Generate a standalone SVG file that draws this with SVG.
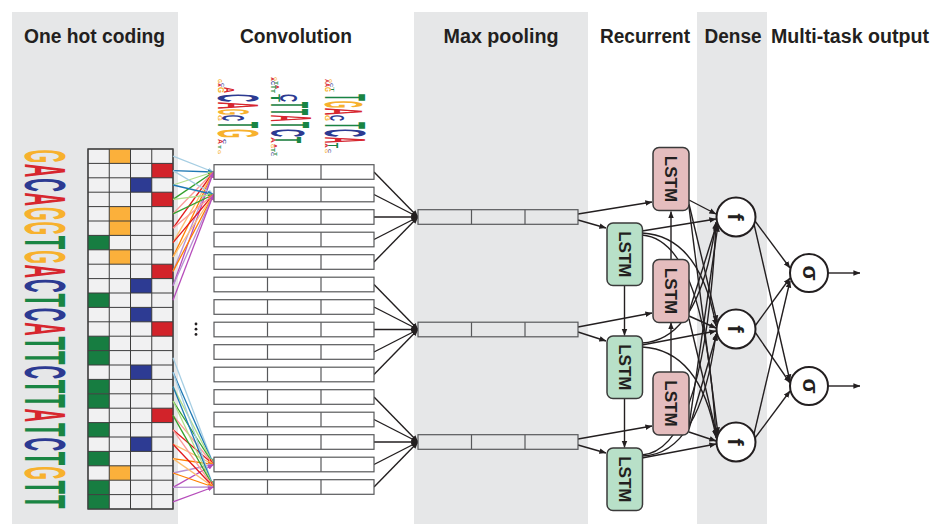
<svg xmlns="http://www.w3.org/2000/svg" width="934" height="524" viewBox="0 0 934 524">
<style>
.panel{fill:#e6e7e8}
.h{font-family:"Liberation Sans",Arial,sans-serif;font-weight:bold;font-size:20px;fill:#231f20;text-anchor:middle}
.seq{font-family:"Liberation Sans",Arial,sans-serif;font-weight:bold;font-size:58px}
.lg{font-family:"Liberation Sans",Arial,sans-serif;font-weight:bold}
.oG{fill:#f7b12d}.oA{fill:#d7262e}.oC{fill:#2c3a92}.oT{fill:#198543}
.cell{fill:#f1f1f2;stroke:#3d3d3d;stroke-width:1}
.cT{fill:#177d41}.cG{fill:#fbb03b}.cC{fill:#2d3b93}.cA{fill:#d2232a}
.grid{fill:none;stroke:#3d3d3d;stroke-width:1}
.conv{fill:#ffffff;stroke:#58595b;stroke-width:1.2}
.mp{fill:#e6e7e8;stroke:#58595b;stroke-width:1.2}
.div{fill:none;stroke:#58595b;stroke-width:1.2}
.lk{fill:none;stroke:#231f20;stroke-width:1.4;marker-end:url(#ab)}
.gl{fill:#b8e0c8;stroke:#3a3a3a;stroke-width:1.5}
.pl{fill:#e5bdbe;stroke:#3a3a3a;stroke-width:1.5}
.lt{font-family:"Liberation Sans",Arial,sans-serif;font-weight:bold;font-size:17px;fill:#231f20;text-anchor:middle}
.nd{fill:#ffffff;stroke:#231f20;stroke-width:2}
.sym{font-family:"Liberation Sans",Arial,sans-serif;font-weight:bold;font-size:22px;fill:#231f20;text-anchor:middle}
.col{fill:none;stroke-width:1.3}
</style>
<defs>
<marker id="ab" viewBox="0 0 10 10" refX="9.5" refY="5" markerWidth="7" markerHeight="7" markerUnits="userSpaceOnUse" orient="auto"><path d="M0,1L10,5L0,9z" fill="#231f20"/></marker>
<marker id="m0" viewBox="0 0 10 10" refX="9.5" refY="5" markerWidth="6" markerHeight="6" markerUnits="userSpaceOnUse" orient="auto"><path d="M0,1L10,5L0,9z" fill="#a6cee3"/></marker>
<marker id="m1" viewBox="0 0 10 10" refX="9.5" refY="5" markerWidth="6" markerHeight="6" markerUnits="userSpaceOnUse" orient="auto"><path d="M0,1L10,5L0,9z" fill="#1f78b4"/></marker>
<marker id="m2" viewBox="0 0 10 10" refX="9.5" refY="5" markerWidth="6" markerHeight="6" markerUnits="userSpaceOnUse" orient="auto"><path d="M0,1L10,5L0,9z" fill="#b2df8a"/></marker>
<marker id="m3" viewBox="0 0 10 10" refX="9.5" refY="5" markerWidth="6" markerHeight="6" markerUnits="userSpaceOnUse" orient="auto"><path d="M0,1L10,5L0,9z" fill="#33a02c"/></marker>
<marker id="m4" viewBox="0 0 10 10" refX="9.5" refY="5" markerWidth="6" markerHeight="6" markerUnits="userSpaceOnUse" orient="auto"><path d="M0,1L10,5L0,9z" fill="#fb9a99"/></marker>
<marker id="m5" viewBox="0 0 10 10" refX="9.5" refY="5" markerWidth="6" markerHeight="6" markerUnits="userSpaceOnUse" orient="auto"><path d="M0,1L10,5L0,9z" fill="#e31a1c"/></marker>
<marker id="m6" viewBox="0 0 10 10" refX="9.5" refY="5" markerWidth="6" markerHeight="6" markerUnits="userSpaceOnUse" orient="auto"><path d="M0,1L10,5L0,9z" fill="#fdbf6f"/></marker>
<marker id="m7" viewBox="0 0 10 10" refX="9.5" refY="5" markerWidth="6" markerHeight="6" markerUnits="userSpaceOnUse" orient="auto"><path d="M0,1L10,5L0,9z" fill="#ff7f00"/></marker>
<marker id="m8" viewBox="0 0 10 10" refX="9.5" refY="5" markerWidth="6" markerHeight="6" markerUnits="userSpaceOnUse" orient="auto"><path d="M0,1L10,5L0,9z" fill="#b890d2"/></marker>
<marker id="m9" viewBox="0 0 10 10" refX="9.5" refY="5" markerWidth="6" markerHeight="6" markerUnits="userSpaceOnUse" orient="auto"><path d="M0,1L10,5L0,9z" fill="#b64dbb"/></marker>
</defs>

<rect width="934" height="524" fill="#ffffff"/>
<g id="panels">
<rect class="panel" x="12" y="12" width="166" height="512"/>
<rect class="panel" x="414" y="12" width="174" height="512"/>
<rect class="panel" x="697" y="12" width="70" height="512"/>
</g>

<g id="headers">
<text class="h" x="94.5" y="43" textLength="141" lengthAdjust="spacingAndGlyphs">One hot coding</text>
<text class="h" x="296" y="43" textLength="112" lengthAdjust="spacingAndGlyphs">Convolution</text>
<text class="h" x="501" y="43" textLength="115" lengthAdjust="spacingAndGlyphs">Max pooling</text>
<text class="h" x="645" y="43" textLength="90" lengthAdjust="spacingAndGlyphs">Recurrent</text>
<text class="h" x="733" y="43" textLength="57" lengthAdjust="spacingAndGlyphs">Dense</text>
<text class="h" x="850" y="43" textLength="158" lengthAdjust="spacingAndGlyphs">Multi-task output</text>
</g>

<g id="sequence" transform="rotate(90)">
<text class="seq oG" x="149.4" y="-25" textLength="13.6" lengthAdjust="spacingAndGlyphs">G</text>
<text class="seq oA" x="163.8" y="-25" textLength="13.6" lengthAdjust="spacingAndGlyphs">A</text>
<text class="seq oC" x="178.2" y="-25" textLength="13.6" lengthAdjust="spacingAndGlyphs">C</text>
<text class="seq oA" x="192.6" y="-25" textLength="13.6" lengthAdjust="spacingAndGlyphs">A</text>
<text class="seq oG" x="207" y="-25" textLength="13.6" lengthAdjust="spacingAndGlyphs">G</text>
<text class="seq oG" x="221.4" y="-25" textLength="13.6" lengthAdjust="spacingAndGlyphs">G</text>
<text class="seq oT" x="235.8" y="-25" textLength="13.6" lengthAdjust="spacingAndGlyphs">T</text>
<text class="seq oG" x="250.2" y="-25" textLength="13.6" lengthAdjust="spacingAndGlyphs">G</text>
<text class="seq oA" x="264.6" y="-25" textLength="13.6" lengthAdjust="spacingAndGlyphs">A</text>
<text class="seq oC" x="279" y="-25" textLength="13.6" lengthAdjust="spacingAndGlyphs">C</text>
<text class="seq oT" x="293.4" y="-25" textLength="13.6" lengthAdjust="spacingAndGlyphs">T</text>
<text class="seq oC" x="307.8" y="-25" textLength="13.6" lengthAdjust="spacingAndGlyphs">C</text>
<text class="seq oA" x="322.2" y="-25" textLength="13.6" lengthAdjust="spacingAndGlyphs">A</text>
<text class="seq oT" x="336.6" y="-25" textLength="13.6" lengthAdjust="spacingAndGlyphs">T</text>
<text class="seq oT" x="351" y="-25" textLength="13.6" lengthAdjust="spacingAndGlyphs">T</text>
<text class="seq oC" x="365.4" y="-25" textLength="13.6" lengthAdjust="spacingAndGlyphs">C</text>
<text class="seq oT" x="379.8" y="-25" textLength="13.6" lengthAdjust="spacingAndGlyphs">T</text>
<text class="seq oT" x="394.2" y="-25" textLength="13.6" lengthAdjust="spacingAndGlyphs">T</text>
<text class="seq oA" x="408.6" y="-25" textLength="13.6" lengthAdjust="spacingAndGlyphs">A</text>
<text class="seq oT" x="423" y="-25" textLength="13.6" lengthAdjust="spacingAndGlyphs">T</text>
<text class="seq oC" x="437.4" y="-25" textLength="13.6" lengthAdjust="spacingAndGlyphs">C</text>
<text class="seq oT" x="451.8" y="-25" textLength="13.6" lengthAdjust="spacingAndGlyphs">T</text>
<text class="seq oG" x="466.2" y="-25" textLength="13.6" lengthAdjust="spacingAndGlyphs">G</text>
<text class="seq oT" x="480.6" y="-25" textLength="13.6" lengthAdjust="spacingAndGlyphs">T</text>
<text class="seq oT" x="495" y="-25" textLength="13.6" lengthAdjust="spacingAndGlyphs">T</text>
</g>

<g id="onehot">
<rect class="cell" x="88" y="149" width="85" height="360"/>
<rect class="cG" x="109.25" y="149" width="21.25" height="14.4"/>
<rect class="cA" x="151.75" y="163.4" width="21.25" height="14.4"/>
<rect class="cC" x="130.5" y="177.8" width="21.25" height="14.4"/>
<rect class="cA" x="151.75" y="192.2" width="21.25" height="14.4"/>
<rect class="cG" x="109.25" y="206.6" width="21.25" height="14.4"/>
<rect class="cG" x="109.25" y="221" width="21.25" height="14.4"/>
<rect class="cT" x="88" y="235.4" width="21.25" height="14.4"/>
<rect class="cG" x="109.25" y="249.8" width="21.25" height="14.4"/>
<rect class="cA" x="151.75" y="264.2" width="21.25" height="14.4"/>
<rect class="cC" x="130.5" y="278.6" width="21.25" height="14.4"/>
<rect class="cT" x="88" y="293" width="21.25" height="14.4"/>
<rect class="cC" x="130.5" y="307.4" width="21.25" height="14.4"/>
<rect class="cA" x="151.75" y="321.8" width="21.25" height="14.4"/>
<rect class="cT" x="88" y="336.2" width="21.25" height="14.4"/>
<rect class="cT" x="88" y="350.6" width="21.25" height="14.4"/>
<rect class="cC" x="130.5" y="365" width="21.25" height="14.4"/>
<rect class="cT" x="88" y="379.4" width="21.25" height="14.4"/>
<rect class="cT" x="88" y="393.8" width="21.25" height="14.4"/>
<rect class="cA" x="151.75" y="408.2" width="21.25" height="14.4"/>
<rect class="cT" x="88" y="422.6" width="21.25" height="14.4"/>
<rect class="cC" x="130.5" y="437" width="21.25" height="14.4"/>
<rect class="cT" x="88" y="451.4" width="21.25" height="14.4"/>
<rect class="cG" x="109.25" y="465.8" width="21.25" height="14.4"/>
<rect class="cT" x="88" y="480.2" width="21.25" height="14.4"/>
<rect class="cT" x="88" y="494.6" width="21.25" height="14.4"/>
<path class="grid" d="M109.25 149V509M130.5 149V509M151.75 149V509M88 163.4H173M88 177.8H173M88 192.2H173M88 206.6H173M88 221H173M88 235.4H173M88 249.8H173M88 264.2H173M88 278.6H173M88 293H173M88 307.4H173M88 321.8H173M88 336.2H173M88 350.6H173M88 365H173M88 379.4H173M88 393.8H173M88 408.2H173M88 422.6H173M88 437H173M88 451.4H173M88 465.8H173M88 480.2H173M88 494.6H173"/>
<rect x="88" y="149" width="85" height="360" fill="none" stroke="#3d3d3d" stroke-width="1.2"/>
</g>

<g id="logos" transform="rotate(90)">
<g id="logo1">
<text class="lg oG" x="79" y="-218" font-size="5.8" textLength="4" lengthAdjust="spacingAndGlyphs">G</text>
<text class="lg oA" x="83" y="-218" font-size="4.4" textLength="4" lengthAdjust="spacingAndGlyphs">A</text>
<text class="lg oC" x="83" y="-221" font-size="4.4" textLength="4" lengthAdjust="spacingAndGlyphs">C</text>
<text class="lg oG" x="87" y="-218" font-size="8.7" textLength="6" lengthAdjust="spacingAndGlyphs">G</text>
<text class="lg oA" x="87" y="-224" font-size="14.5" textLength="6" lengthAdjust="spacingAndGlyphs">A</text>
<text class="lg oC" x="94" y="-218" font-size="56.7" textLength="8" lengthAdjust="spacingAndGlyphs">C</text>
<text class="lg oA" x="102" y="-218" font-size="56.7" textLength="7" lengthAdjust="spacingAndGlyphs">A</text>
<text class="lg oG" x="109" y="-218" font-size="43.6" textLength="6" lengthAdjust="spacingAndGlyphs">G</text>
<text class="lg oG" x="115" y="-218" font-size="5.8" textLength="6" lengthAdjust="spacingAndGlyphs">G</text>
<text class="lg oC" x="115" y="-222" font-size="32" textLength="6" lengthAdjust="spacingAndGlyphs">C</text>
<text class="lg oT" x="122" y="-218" font-size="58" textLength="6" lengthAdjust="spacingAndGlyphs">T</text>
<text class="lg oG" x="129" y="-218" font-size="56.7" textLength="9" lengthAdjust="spacingAndGlyphs">G</text>
<text class="lg oA" x="139" y="-218" font-size="7.3" textLength="5" lengthAdjust="spacingAndGlyphs">A</text>
<text class="lg oC" x="139" y="-223" font-size="4.4" textLength="5" lengthAdjust="spacingAndGlyphs">C</text>
<text class="lg oT" x="145" y="-218" font-size="4.4" textLength="4" lengthAdjust="spacingAndGlyphs">T</text>
<text class="lg oG" x="150" y="-218" font-size="4.4" textLength="4" lengthAdjust="spacingAndGlyphs">G</text>
</g>
<g id="logo2">
<text class="lg oA" x="77" y="-271" font-size="4.4" textLength="4" lengthAdjust="spacingAndGlyphs">A</text>
<text class="lg oG" x="77" y="-274" font-size="3" textLength="4" lengthAdjust="spacingAndGlyphs">G</text>
<text class="lg oC" x="81" y="-271" font-size="5.8" textLength="4" lengthAdjust="spacingAndGlyphs">C</text>
<text class="lg oT" x="81" y="-275" font-size="4.4" textLength="4" lengthAdjust="spacingAndGlyphs">T</text>
<text class="lg oT" x="85" y="-271" font-size="7.3" textLength="4" lengthAdjust="spacingAndGlyphs">T</text>
<text class="lg oA" x="85" y="-276" font-size="4.4" textLength="4" lengthAdjust="spacingAndGlyphs">A</text>
<text class="lg oT" x="89" y="-271" font-size="5.8" textLength="4" lengthAdjust="spacingAndGlyphs">T</text>
<text class="lg oT" x="94" y="-271" font-size="13.1" textLength="8" lengthAdjust="spacingAndGlyphs">T</text>
<text class="lg oC" x="94" y="-280" font-size="24.7" textLength="8" lengthAdjust="spacingAndGlyphs">C</text>
<text class="lg oT" x="102" y="-271" font-size="53.8" textLength="6" lengthAdjust="spacingAndGlyphs">T</text>
<text class="lg oT" x="109" y="-271" font-size="53.8" textLength="6" lengthAdjust="spacingAndGlyphs">T</text>
<text class="lg oA" x="115" y="-271" font-size="58" textLength="6.5" lengthAdjust="spacingAndGlyphs">A</text>
<text class="lg oT" x="122" y="-271" font-size="55.2" textLength="6" lengthAdjust="spacingAndGlyphs">T</text>
<text class="lg oC" x="129" y="-271" font-size="48" textLength="8" lengthAdjust="spacingAndGlyphs">C</text>
<text class="lg oA" x="137" y="-271" font-size="5.8" textLength="6" lengthAdjust="spacingAndGlyphs">A</text>
<text class="lg oT" x="137" y="-275" font-size="36.3" textLength="6" lengthAdjust="spacingAndGlyphs">T</text>
<text class="lg oG" x="144" y="-271" font-size="4.4" textLength="4" lengthAdjust="spacingAndGlyphs">G</text>
<text class="lg oA" x="144" y="-274" font-size="4.4" textLength="4" lengthAdjust="spacingAndGlyphs">A</text>
<text class="lg oT" x="148" y="-271" font-size="5.8" textLength="4" lengthAdjust="spacingAndGlyphs">T</text>
<text class="lg oC" x="152" y="-271" font-size="4.4" textLength="4" lengthAdjust="spacingAndGlyphs">C</text>
<text class="lg oT" x="152" y="-274" font-size="4.4" textLength="4" lengthAdjust="spacingAndGlyphs">T</text>
</g>
<g id="logo3">
<text class="lg oA" x="79" y="-325" font-size="5.8" textLength="4" lengthAdjust="spacingAndGlyphs">A</text>
<text class="lg oG" x="79" y="-329" font-size="4.4" textLength="4" lengthAdjust="spacingAndGlyphs">G</text>
<text class="lg oA" x="83" y="-325" font-size="7.3" textLength="4" lengthAdjust="spacingAndGlyphs">A</text>
<text class="lg oC" x="83" y="-330" font-size="3" textLength="4" lengthAdjust="spacingAndGlyphs">C</text>
<text class="lg oG" x="87" y="-325" font-size="8.7" textLength="5" lengthAdjust="spacingAndGlyphs">G</text>
<text class="lg oT" x="87" y="-331" font-size="3" textLength="5" lengthAdjust="spacingAndGlyphs">T</text>
<text class="lg oT" x="94" y="-325" font-size="58" textLength="7" lengthAdjust="spacingAndGlyphs">T</text>
<text class="lg oG" x="101" y="-325" font-size="53.8" textLength="7" lengthAdjust="spacingAndGlyphs">G</text>
<text class="lg oA" x="108" y="-325" font-size="53.8" textLength="7" lengthAdjust="spacingAndGlyphs">A</text>
<text class="lg oG" x="115" y="-325" font-size="7.3" textLength="6" lengthAdjust="spacingAndGlyphs">G</text>
<text class="lg oC" x="115" y="-330" font-size="20.3" textLength="6" lengthAdjust="spacingAndGlyphs">C</text>
<text class="lg oT" x="122" y="-325" font-size="58" textLength="7" lengthAdjust="spacingAndGlyphs">T</text>
<text class="lg oC" x="129" y="-325" font-size="58" textLength="8" lengthAdjust="spacingAndGlyphs">C</text>
<text class="lg oA" x="137" y="-325" font-size="58" textLength="6" lengthAdjust="spacingAndGlyphs">A</text>
<text class="lg oA" x="143" y="-325" font-size="4.4" textLength="5" lengthAdjust="spacingAndGlyphs">A</text>
<text class="lg oT" x="143" y="-328" font-size="14.5" textLength="5" lengthAdjust="spacingAndGlyphs">T</text>
<text class="lg oG" x="149" y="-325" font-size="4.4" textLength="4" lengthAdjust="spacingAndGlyphs">G</text>
<text class="lg oC" x="149" y="-328" font-size="3" textLength="4" lengthAdjust="spacingAndGlyphs">C</text>
</g>
</g>

<g id="connectors">
<g id="filter-lines">
<path class="col" stroke="#a6cee3" marker-end="url(#m0)" d="M173 156.2L213.5 172"/>
<path class="col" stroke="#1f78b4" marker-end="url(#m1)" d="M173 170.6L213.5 172"/>
<path class="col" stroke="#b2df8a" marker-end="url(#m2)" d="M173 185L213.5 172"/>
<path class="col" stroke="#33a02c" marker-end="url(#m3)" d="M173 199.4L213.5 172"/>
<path class="col" stroke="#fb9a99" marker-end="url(#m4)" d="M173 213.8L213.5 172"/>
<path class="col" stroke="#e31a1c" marker-end="url(#m5)" d="M173 228.2L213.5 172"/>
<path class="col" stroke="#fdbf6f" marker-end="url(#m6)" d="M173 242.6L213.5 172"/>
<path class="col" stroke="#ff7f00" marker-end="url(#m7)" d="M173 257L213.5 172"/>
<path class="col" stroke="#b890d2" marker-end="url(#m8)" d="M173 271.4L213.5 172"/>
<path class="col" stroke="#b64dbb" marker-end="url(#m9)" d="M173 285.8L213.5 172"/>
<path class="col" stroke="#a6cee3" marker-end="url(#m0)" d="M173 170.6L213.5 194.5"/>
<path class="col" stroke="#1f78b4" marker-end="url(#m1)" d="M173 185L213.5 194.5"/>
<path class="col" stroke="#b2df8a" marker-end="url(#m2)" d="M173 199.4L213.5 194.5"/>
<path class="col" stroke="#33a02c" marker-end="url(#m3)" d="M173 213.8L213.5 194.5"/>
<path class="col" stroke="#fb9a99" marker-end="url(#m4)" d="M173 228.2L213.5 194.5"/>
<path class="col" stroke="#e31a1c" marker-end="url(#m5)" d="M173 242.6L213.5 194.5"/>
<path class="col" stroke="#fdbf6f" marker-end="url(#m6)" d="M173 257L213.5 194.5"/>
<path class="col" stroke="#ff7f00" marker-end="url(#m7)" d="M173 271.4L213.5 194.5"/>
<path class="col" stroke="#b890d2" marker-end="url(#m8)" d="M173 285.8L213.5 194.5"/>
<path class="col" stroke="#b64dbb" marker-end="url(#m9)" d="M173 300.2L213.5 194.5"/>
<path class="col" stroke="#a6cee3" marker-end="url(#m0)" d="M173 357.8L213.5 464.5"/>
<path class="col" stroke="#1f78b4" marker-end="url(#m1)" d="M173 372.2L213.5 464.5"/>
<path class="col" stroke="#b2df8a" marker-end="url(#m2)" d="M173 386.6L213.5 464.5"/>
<path class="col" stroke="#33a02c" marker-end="url(#m3)" d="M173 401L213.5 464.5"/>
<path class="col" stroke="#fb9a99" marker-end="url(#m4)" d="M173 415.4L213.5 464.5"/>
<path class="col" stroke="#e31a1c" marker-end="url(#m5)" d="M173 429.8L213.5 464.5"/>
<path class="col" stroke="#fdbf6f" marker-end="url(#m6)" d="M173 444.2L213.5 464.5"/>
<path class="col" stroke="#ff7f00" marker-end="url(#m7)" d="M173 458.6L213.5 464.5"/>
<path class="col" stroke="#b890d2" marker-end="url(#m8)" d="M173 473L213.5 464.5"/>
<path class="col" stroke="#b64dbb" marker-end="url(#m9)" d="M173 487.4L213.5 464.5"/>
<path class="col" stroke="#a6cee3" marker-end="url(#m0)" d="M173 372.2L213.5 487"/>
<path class="col" stroke="#1f78b4" marker-end="url(#m1)" d="M173 386.6L213.5 487"/>
<path class="col" stroke="#b2df8a" marker-end="url(#m2)" d="M173 401L213.5 487"/>
<path class="col" stroke="#33a02c" marker-end="url(#m3)" d="M173 415.4L213.5 487"/>
<path class="col" stroke="#fb9a99" marker-end="url(#m4)" d="M173 429.8L213.5 487"/>
<path class="col" stroke="#e31a1c" marker-end="url(#m5)" d="M173 444.2L213.5 487"/>
<path class="col" stroke="#fdbf6f" marker-end="url(#m6)" d="M173 458.6L213.5 487"/>
<path class="col" stroke="#ff7f00" marker-end="url(#m7)" d="M173 473L213.5 487"/>
<path class="col" stroke="#b890d2" marker-end="url(#m8)" d="M173 487.4L213.5 487"/>
<path class="col" stroke="#b64dbb" marker-end="url(#m9)" d="M173 501.8L213.5 487"/>
</g>
<g id="pool-lines">
<path class="lk" d="M374 172L418 217"/>
<path class="lk" d="M374 194.5L418 217"/>
<path class="lk" d="M374 217L418 217"/>
<path class="lk" d="M374 239.5L418 217"/>
<path class="lk" d="M374 262L418 217"/>
<path class="lk" d="M374 284.5L418 329.5"/>
<path class="lk" d="M374 307L418 329.5"/>
<path class="lk" d="M374 329.5L418 329.5"/>
<path class="lk" d="M374 352L418 329.5"/>
<path class="lk" d="M374 374.5L418 329.5"/>
<path class="lk" d="M374 397L418 442"/>
<path class="lk" d="M374 419.5L418 442"/>
<path class="lk" d="M374 442L418 442"/>
<path class="lk" d="M374 464.5L418 442"/>
<path class="lk" d="M374 487L418 442"/>
</g>
<g id="rnn-lines">
<path class="lk" d="M578 214L652 202"/>
<path class="lk" d="M578 220L606 228"/>
<path class="lk" d="M578 327L652 313"/>
<path class="lk" d="M578 332L606 341"/>
<path class="lk" d="M578 439L652 426"/>
<path class="lk" d="M578 445L606 453"/>
<path class="lk" d="M624.5 286V335.5"/>
<path class="lk" d="M624.5 398.5V447.5"/>
<path class="lk" d="M671 372V322.5"/>
<path class="lk" d="M671 260V211.5"/>
</g>
<g id="dense-lines">
<path class="lk" d="M642 231L716 219"/>
<path class="lk" d="M642 233Q700 236 716 326"/>
<path class="lk" d="M642 235Q705 240 716 438"/>
<path class="lk" d="M642 343Q700 340 716 222"/>
<path class="lk" d="M642 345L716 331"/>
<path class="lk" d="M642 347Q700 350 716 437"/>
<path class="lk" d="M642 455Q705 450 716 224"/>
<path class="lk" d="M642 456Q700 455 716 334"/>
<path class="lk" d="M642 458L716 444"/>
<path class="lk" d="M689 200L716 214"/>
<path class="lk" d="M689 204L717 322"/>
<path class="lk" d="M689 207L718 434"/>
<path class="lk" d="M689 312L717 223"/>
<path class="lk" d="M689 316L716 328"/>
<path class="lk" d="M689 319L717 436"/>
<path class="lk" d="M689 426L718 225"/>
<path class="lk" d="M689 429L717 333"/>
<path class="lk" d="M689 432L716 441"/>
</g>
<g id="output-lines">
<path class="lk" d="M755 221L790 268"/>
<path class="lk" d="M754 224L790 381"/>
<path class="lk" d="M755 326L790 278"/>
<path class="lk" d="M755 332L790 383"/>
<path class="lk" d="M754 434L790 281"/>
<path class="lk" d="M755 438L790 391"/>
<path class="lk" d="M828 273H860"/>
<path class="lk" d="M828 386H860"/>
</g>
</g>

<g id="conv">
<g id="conv-r0"><rect class="conv" x="214" y="164.7" width="160" height="14.6"/><path class="div" d="M267.5 164.7v14.6M321 164.7v14.6"/></g>
<g id="conv-r1"><rect class="conv" x="214" y="187.2" width="160" height="14.6"/><path class="div" d="M267.5 187.2v14.6M321 187.2v14.6"/></g>
<g id="conv-r2"><rect class="conv" x="214" y="209.7" width="160" height="14.6"/><path class="div" d="M267.5 209.7v14.6M321 209.7v14.6"/></g>
<g id="conv-r3"><rect class="conv" x="214" y="232.2" width="160" height="14.6"/><path class="div" d="M267.5 232.2v14.6M321 232.2v14.6"/></g>
<g id="conv-r4"><rect class="conv" x="214" y="254.7" width="160" height="14.6"/><path class="div" d="M267.5 254.7v14.6M321 254.7v14.6"/></g>
<g id="conv-r5"><rect class="conv" x="214" y="277.2" width="160" height="14.6"/><path class="div" d="M267.5 277.2v14.6M321 277.2v14.6"/></g>
<g id="conv-r6"><rect class="conv" x="214" y="299.7" width="160" height="14.6"/><path class="div" d="M267.5 299.7v14.6M321 299.7v14.6"/></g>
<g id="conv-r7"><rect class="conv" x="214" y="322.2" width="160" height="14.6"/><path class="div" d="M267.5 322.2v14.6M321 322.2v14.6"/></g>
<g id="conv-r8"><rect class="conv" x="214" y="344.7" width="160" height="14.6"/><path class="div" d="M267.5 344.7v14.6M321 344.7v14.6"/></g>
<g id="conv-r9"><rect class="conv" x="214" y="367.2" width="160" height="14.6"/><path class="div" d="M267.5 367.2v14.6M321 367.2v14.6"/></g>
<g id="conv-r10"><rect class="conv" x="214" y="389.7" width="160" height="14.6"/><path class="div" d="M267.5 389.7v14.6M321 389.7v14.6"/></g>
<g id="conv-r11"><rect class="conv" x="214" y="412.2" width="160" height="14.6"/><path class="div" d="M267.5 412.2v14.6M321 412.2v14.6"/></g>
<g id="conv-r12"><rect class="conv" x="214" y="434.7" width="160" height="14.6"/><path class="div" d="M267.5 434.7v14.6M321 434.7v14.6"/></g>
<g id="conv-r13"><rect class="conv" x="214" y="457.2" width="160" height="14.6"/><path class="div" d="M267.5 457.2v14.6M321 457.2v14.6"/></g>
<g id="conv-r14"><rect class="conv" x="214" y="479.7" width="160" height="14.6"/><path class="div" d="M267.5 479.7v14.6M321 479.7v14.6"/></g>
<g id="vdots" fill="#231f20"><circle cx="196" cy="324" r="1.4"/><circle cx="196" cy="329.2" r="1.4"/><circle cx="196" cy="334.4" r="1.4"/></g>
</g>

<g id="maxpool">
<g id="mp1"><rect class="mp" x="418" y="209.7" width="160" height="14.6"/><path class="div" d="M471.5 209.7v14.6M525 209.7v14.6"/></g>
<g id="mp2"><rect class="mp" x="418" y="322.2" width="160" height="14.6"/><path class="div" d="M471.5 322.2v14.6M525 322.2v14.6"/></g>
<g id="mp3"><rect class="mp" x="418" y="434.7" width="160" height="14.6"/><path class="div" d="M471.5 434.7v14.6M525 434.7v14.6"/></g>
</g>

<g id="lstm-g1"><rect class="gl" x="607" y="223" width="35.5" height="62.5" rx="6"/><text class="lt" transform="translate(624.5 254.3) rotate(90)" y="6">LSTM</text></g>
<g id="lstm-g2"><rect class="gl" x="607" y="336" width="35.5" height="62.5" rx="6"/><text class="lt" transform="translate(624.5 367.3) rotate(90)" y="6">LSTM</text></g>
<g id="lstm-g3"><rect class="gl" x="607" y="448" width="35.5" height="62.5" rx="6"/><text class="lt" transform="translate(624.5 479.3) rotate(90)" y="6">LSTM</text></g>
<g id="lstm-p1"><rect class="pl" x="653" y="147.5" width="36" height="63" rx="6"/><text class="lt" transform="translate(671 179) rotate(90)" y="6">LSTM</text></g>
<g id="lstm-p2"><rect class="pl" x="653" y="259.5" width="36" height="63" rx="6"/><text class="lt" transform="translate(671 291) rotate(90)" y="6">LSTM</text></g>
<g id="lstm-p3"><rect class="pl" x="653" y="372" width="36" height="63" rx="6"/><text class="lt" transform="translate(671 403.5) rotate(90)" y="6">LSTM</text></g>

<g id="dense-f1"><circle class="nd" cx="736" cy="217" r="19.5"/><text class="sym" transform="translate(736 217) rotate(90)" y="8">f</text></g>
<g id="dense-f2"><circle class="nd" cx="736" cy="329" r="19.5"/><text class="sym" transform="translate(736 329) rotate(90)" y="8">f</text></g>
<g id="dense-f3"><circle class="nd" cx="736" cy="442" r="19.5"/><text class="sym" transform="translate(736 442) rotate(90)" y="8">f</text></g>
<g id="out-s1"><circle class="nd" cx="809" cy="273" r="19"/><text class="sym" transform="translate(809 273) rotate(90)" y="6">σ</text></g>
<g id="out-s2"><circle class="nd" cx="809" cy="386" r="19"/><text class="sym" transform="translate(809 386) rotate(90)" y="6">σ</text></g>
</svg>
